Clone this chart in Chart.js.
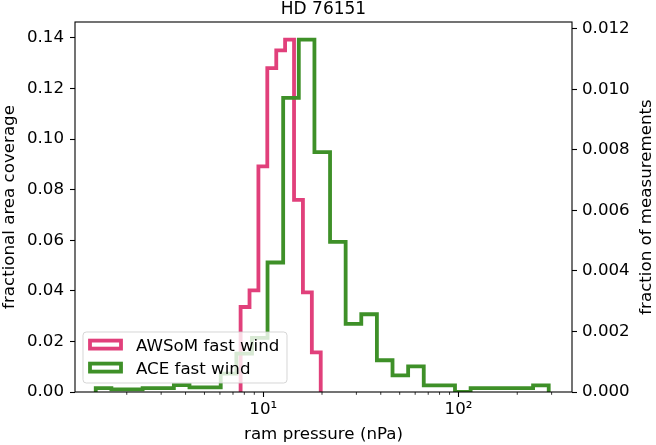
<!DOCTYPE html>
<html lang="en">
<head>
    <meta charset="UTF-8">
    <title>HD 76151</title>
    <script src="https://cdn.jsdelivr.net/npm/chart.js"></script>
    <style>
        body { margin: 0; background: #fff; }
        canvas { display: block; }
    </style>
</head>
<body>
    <canvas id="chart" width="656" height="445"></canvas>

    <script>
        // bin edges (nPa) and heights
        const awsomEdges = [7.657, 8.506, 9.447, 10.49, 11.66, 12.94, 14.38, 15.97, 17.74, 19.70];
        const awsomValues = [0.0336, 0.0402, 0.0892, 0.1281, 0.1351, 0.1393, 0.0760, 0.0394, 0.0157];

        const aceEdges = [1.387, 1.668, 2.005, 2.411, 2.899, 3.485, 4.190, 5.038, 6.057, 7.282,
                          8.755, 10.52, 12.65, 15.21, 18.29, 21.99, 26.43, 31.78, 38.21, 45.94,
                          55.23, 66.40, 79.83, 95.98, 115.4, 138.7, 166.8, 200.5, 241.1, 289.9];
        const aceValues = [0.00013, 0.00009, 0.00009, 0.00013, 0.00013, 0.00023, 0.00015, 0.00015,
                           0.00061, 0.00127, 0.00179, 0.00428, 0.00972, 0.01165, 0.00793, 0.00496,
                           0.00225, 0.00257, 0.00105, 0.00055, 0.00085, 0.00022, 0.00022, 0,
                           0.00013, 0.00013, 0.00013, 0.00013, 0.00022];

        const xTicks = [10, 100];
        const xTickLabels = ['10¹', '10²'];
        const seriesNames = ['AWSoM fast wind', 'ACE fast wind'];

        const PINK = '#e1407b';
        const GREEN = '#3e9028';
        const FONT = 'DejaVu Sans';
        const FS = 16.67;
        const LW = 3.8;

        Chart.defaults.font.family = FONT;
        Chart.defaults.font.size = FS;
        Chart.defaults.color = '#000';

        // outline of a step histogram: up at the first edge, down at the last
        function stepPoints(edges, values) {
            const pts = [{ x: edges[0], y: 0 }];
            values.forEach((v, i) => pts.push({ x: edges[i], y: v }));
            pts.push({ x: edges[edges.length - 1], y: 0 });
            return pts;
        }

        function roundRect(ctx, x, y, w, h, r) {
            ctx.beginPath();
            ctx.moveTo(x + r, y);
            ctx.arcTo(x + w, y, x + w, y + h, r);
            ctx.arcTo(x + w, y + h, x, y + h, r);
            ctx.arcTo(x, y + h, x, y, r);
            ctx.arcTo(x, y, x + w, y, r);
            ctx.closePath();
        }

        const frameAndLegend = {
            id: 'frameAndLegend',
            afterDatasetsDraw(chart) {
                const { ctx, chartArea: a, scales } = chart;
                ctx.save();

                // axes frame
                ctx.strokeStyle = '#000';
                ctx.lineWidth = 1.1;
                ctx.strokeRect(a.left, a.top, a.right - a.left, a.bottom - a.top);

                // minor ticks of the log axis
                const xs = scales.x;
                ctx.lineWidth = 0.8;
                [1, 10, 100].forEach(dec => {
                    for (let k = 2; k <= 9; k++) {
                        const v = k * dec;
                        if (v <= xs.min || v >= xs.max) continue;
                        const px = xs.getPixelForValue(v);
                        ctx.beginPath();
                        ctx.moveTo(px, a.bottom);
                        ctx.lineTo(px, a.bottom + 2.8);
                        ctx.stroke();
                    }
                });

                // title and right axis label
                ctx.fillStyle = '#000';
                ctx.font = '17px "' + FONT + '"';
                ctx.textAlign = 'center';
                ctx.textBaseline = 'alphabetic';
                ctx.fillText('HD 76151', (a.left + a.right) / 2, 14);

                ctx.save();
                ctx.translate(647, (a.top + a.bottom) / 2);
                ctx.rotate(-Math.PI / 2);
                ctx.font = FS + 'px "' + FONT + '"';
                ctx.textBaseline = 'middle';
                ctx.fillText('fraction of measurements', 0, 0);
                ctx.restore();

                // legend, lower left inside the axes
                const lx = a.left + 8, ly = a.bottom - 60, lw = 204, lh = 51;
                ctx.globalAlpha = 0.8;
                roundRect(ctx, lx, ly, lw, lh, 3.3);
                ctx.fillStyle = '#fff';
                ctx.fill();
                ctx.strokeStyle = '#ccc';
                ctx.lineWidth = 1;
                ctx.stroke();
                ctx.globalAlpha = 1;

                const colors = [PINK, GREEN];
                seriesNames.forEach((name, i) => {
                    const cy = ly + 12.6 + i * 23;
                    ctx.strokeStyle = colors[i];
                    ctx.lineWidth = LW;
                    ctx.strokeRect(lx + 7, cy - 4, 31, 8);
                    ctx.fillStyle = '#000';
                    ctx.font = FS + 'px "' + FONT + '"';
                    ctx.textAlign = 'left';
                    ctx.textBaseline = 'alphabetic';
                    ctx.fillText(name, lx + 53, cy + 6);
                });

                ctx.restore();
            }
        };

        const tickGrid = {
            drawOnChartArea: false,
            drawTicks: true,
            tickLength: 5,
            tickWidth: 1.1,
            tickColor: '#000'
        };

        new Chart(document.getElementById('chart'), {
            type: 'line',
            data: {
                datasets: [
                    {
                        label: seriesNames[0],
                        data: stepPoints(awsomEdges, awsomValues),
                        yAxisID: 'y',
                        borderColor: PINK,
                        backgroundColor: '#fff',
                        borderWidth: LW,
                        borderJoinStyle: 'miter',
                        stepped: true,
                        pointRadius: 0,
                        fill: false,
                        order: 1
                    },
                    {
                        label: seriesNames[1],
                        data: stepPoints(aceEdges, aceValues),
                        yAxisID: 'y1',
                        borderColor: GREEN,
                        backgroundColor: '#fff',
                        borderWidth: LW,
                        borderJoinStyle: 'miter',
                        stepped: true,
                        pointRadius: 0,
                        fill: false,
                        order: 0
                    }
                ]
            },
            options: {
                responsive: false,
                animation: false,
                layout: { padding: { top: 22, left: 0, right: 0, bottom: 0 } },
                plugins: {
                    legend: { display: false },
                    tooltip: { enabled: false }
                },
                scales: {
                    x: {
                        type: 'logarithmic',
                        min: 1.086,
                        max: 381.5,
                        afterBuildTicks: s => { s.ticks = xTicks.map(v => ({ value: v })); },
                        afterFit: s => { s.height = 53; },
                        border: { display: false },
                        grid: tickGrid,
                        ticks: {
                            autoSkip: false,
                            maxRotation: 0,
                            padding: 3,
                            callback: (v, i) => xTickLabels[i]
                        },
                        title: {
                            display: true,
                            text: 'ram pressure (nPa)',
                            padding: { top: 0, bottom: 0 }
                        }
                    },
                    y: {
                        position: 'left',
                        min: 0,
                        max: 0.1463,
                        afterFit: s => { s.width = 75; },
                        border: { display: false },
                        grid: tickGrid,
                        ticks: {
                            stepSize: 0.02,
                            includeBounds: false,
                            padding: 6,
                            callback: v => v.toFixed(2)
                        },
                        title: {
                            display: true,
                            text: 'fractional area coverage',
                            padding: { top: 0, bottom: 0 }
                        }
                    },
                    y1: {
                        position: 'right',
                        min: 0,
                        max: 0.01223,
                        afterFit: s => { s.width = 84; },
                        border: { display: false },
                        grid: tickGrid,
                        ticks: {
                            stepSize: 0.002,
                            includeBounds: false,
                            padding: 5,
                            callback: v => v.toFixed(3)
                        }
                    }
                }
            },
            plugins: [frameAndLegend]
        });
    </script>
</body>
</html>
